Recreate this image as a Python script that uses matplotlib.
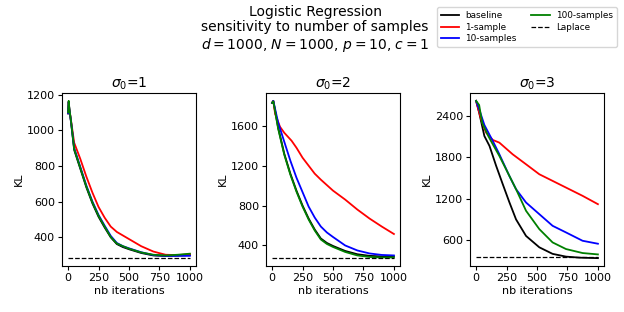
import matplotlib
matplotlib.use("Agg")
import matplotlib.pyplot as plt
import numpy as np

# ---- data ----
# sigma0 = 1
s1_base_x = [0, 5, 10, 25, 50, 100, 150, 200, 250, 300, 350, 400, 450, 500, 600, 700, 800, 900, 1000]
s1_base_y = [1095, 1160, 1120, 1040, 890, 785, 680, 590, 515, 455, 400, 362, 345, 333, 312, 298, 295, 297, 300]
s1_one_x = [0, 5, 10, 25, 50, 100, 150, 200, 250, 300, 350, 400, 500, 600, 700, 800, 900, 1000]
s1_one_y = [1095, 1160, 1120, 1050, 930, 840, 740, 650, 570, 510, 460, 430, 390, 350, 320, 302, 300, 305]
s1_ten_x = [0, 5, 10, 25, 50, 100, 150, 200, 250, 300, 350, 400, 450, 500, 600, 700, 800, 900, 1000]
s1_ten_y = [1095, 1160, 1120, 1045, 900, 795, 690, 600, 525, 465, 408, 368, 350, 338, 316, 300, 296, 296, 296]
s1_hun_x = [0, 5, 10, 25, 50, 100, 150, 200, 250, 300, 350, 400, 450, 500, 600, 700, 800, 900, 1000]
s1_hun_y = [1100, 1165, 1125, 1045, 895, 790, 685, 595, 520, 460, 402, 365, 350, 336, 315, 302, 298, 302, 308]
s1_lap = 283

# sigma0 = 2
s2_base_x = [0, 10, 50, 100, 150, 200, 250, 300, 350, 400, 450, 500, 600, 700, 800, 900, 1000]
s2_base_y = [1830, 1850, 1580, 1320, 1120, 950, 800, 670, 560, 470, 425, 395, 345, 312, 296, 290, 290]
s2_one_x = [0, 10, 25, 65, 100, 160, 200, 250, 300, 350, 400, 500, 600, 700, 800, 900, 1000]
s2_one_y = [1830, 1850, 1720, 1590, 1530, 1450, 1380, 1280, 1200, 1120, 1060, 950, 860, 760, 670, 590, 515]
s2_ten_x = [0, 10, 50, 100, 150, 200, 250, 300, 350, 400, 450, 500, 600, 700, 800, 900, 1000]
s2_ten_y = [1830, 1850, 1630, 1440, 1250, 1080, 935, 790, 680, 590, 530, 485, 400, 350, 320, 305, 300]
s2_hun_x = [0, 10, 50, 100, 150, 200, 250, 300, 350, 400, 450, 500, 600, 700, 800, 900, 1000]
s2_hun_y = [1830, 1845, 1570, 1310, 1110, 940, 790, 660, 550, 460, 415, 385, 335, 300, 285, 280, 280]
s2_lap = 273

# sigma0 = 3
s3_base_x = [0, 25, 68, 110, 164, 219, 273, 328, 410, 519, 628, 738, 850, 1000]
s3_base_y = [2620, 2450, 2110, 1966, 1680, 1410, 1150, 900, 660, 495, 400, 360, 345, 338]
s3_one_x = [0, 41, 82, 137, 191, 300, 410, 519, 628, 738, 874, 1000]
s3_one_y = [2620, 2352, 2159, 2053, 2014, 1845, 1700, 1555, 1459, 1362, 1242, 1121]
s3_ten_x = [0, 25, 68, 137, 191, 273, 328, 410, 519, 628, 738, 874, 1000]
s3_ten_y = [2620, 2500, 2270, 2038, 1845, 1531, 1338, 1145, 976, 807, 711, 590, 547]
s3_hun_x = [0, 25, 50, 100, 137, 191, 246, 328, 410, 519, 628, 738, 874, 1000]
s3_hun_y = [2620, 2560, 2300, 2110, 1990, 1821, 1628, 1338, 1025, 759, 566, 470, 412, 392]
s3_lap = 358

sigmas = ["1", "2", "3"]
yticks = [[400, 600, 800, 1000, 1200], [400, 800, 1200, 1600], [600, 1200, 1800, 2400]]
xticks = [0, 250, 500, 750, 1000]

panels = [
    (s1_base_x, s1_base_y, s1_one_x, s1_one_y, s1_ten_x, s1_ten_y, s1_hun_x, s1_hun_y, s1_lap),
    (s2_base_x, s2_base_y, s2_one_x, s2_one_y, s2_ten_x, s2_ten_y, s2_hun_x, s2_hun_y, s2_lap),
    (s3_base_x, s3_base_y, s3_one_x, s3_one_y, s3_ten_x, s3_ten_y, s3_hun_x, s3_hun_y, s3_lap),
]

fig = plt.figure(figsize=(6.24, 3.12), dpi=100)
lefts = [62, 266, 470]
W = 134
top_px, bot_px = 93, 266
axes = []
for i in range(3):
    ax = fig.add_axes([lefts[i] / 624, 1 - bot_px / 312, W / 624, (bot_px - top_px) / 312])
    axes.append(ax)

handles = None
for i, ax in enumerate(axes):
    bx, by, ox, oy, tx, ty, hx, hy, lap = panels[i]
    h1, = ax.plot(bx, by, color="black", lw=1.3, label="baseline")
    h2, = ax.plot(ox, oy, color="red", lw=1.3, label="1-sample")
    h3, = ax.plot(tx, ty, color="blue", lw=1.3, label="10-samples")
    h4, = ax.plot(hx, hy, color="green", lw=1.3, label="100-samples")
    h5, = ax.plot([0, 1000], [lap, lap], color="black", lw=0.9, ls="--", label="Laplace")
    handles = [h1, h2, h3, h4, h5]
    ax.set_title(r"$\sigma_0$=" + sigmas[i], fontsize=10, pad=4)
    ax.set_xlabel("nb iterations", fontsize=8, labelpad=2)
    ax.set_ylabel("KL", fontsize=8, labelpad=2)
    ax.set_xticks(xticks)
    ax.set_yticks(yticks[i])
    ax.tick_params(labelsize=8, length=3, pad=2)

fig.text(0.505, 0.985, "Logistic Regression\nsensitivity to number of samples\n$d=1000$, $N=1000$, $p=10$, $c=1$",
         ha="center", va="top", fontsize=10, linespacing=1.15)

fig.legend(handles=handles, ncol=2, fontsize=6.4, loc="upper right",
           bbox_to_anchor=(621 / 624, 1 - 3 / 312), frameon=True,
           handlelength=2.1, handletextpad=0.7, columnspacing=1.6, labelspacing=0.3,
           borderpad=0.4, fancybox=True)

fig.savefig("out.png", dpi=100)
